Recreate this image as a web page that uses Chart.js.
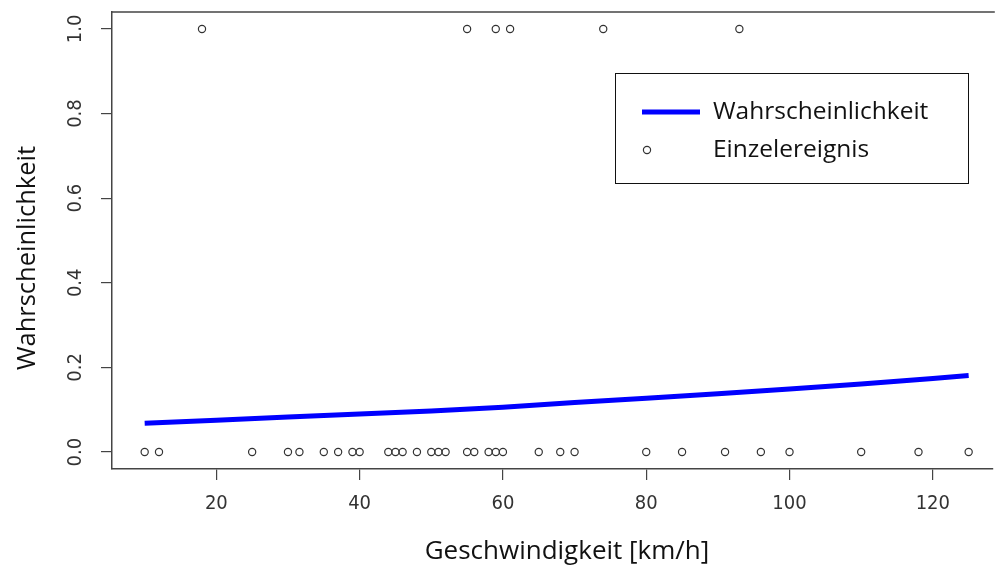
<!DOCTYPE html>
<html><head><meta charset="utf-8">
<script src="https://cdn.jsdelivr.net/npm/chart.js@4.4.0/dist/chart.umd.min.js"></script>
<style>html,body{margin:0;padding:0;background:#fff;overflow:hidden}</style>
</head><body>
<canvas id="c" width="998" height="570"></canvas>
<script>
// ---- data ----
const speedNoEvent = [10,12,25,30,31.6,35,37,39,40,44,45,46,48,50,51,52,55,56,58,59,60,65,68,70,80,85,91,96,100,110,118,125];
const speedEvent = [18,55,59,61,74,93];
const curveSpeed = [10,20,30,40,50,60,70,80,90,100,110,120,125];
const curveProb = [0.068,0.075,0.083,0.090,0.097,0.106,0.117,0.127,0.138,0.149,0.161,0.174,0.181];
const xTicks = [20,40,60,80,100,120];
const yTicks = [0,0.2,0.4,0.6,0.8,1.0];
const yTickLabels = ['0.0','0.2','0.4','0.6','0.8','1.0'];
const seriesLabels = ['Wahrscheinlichkeit','Einzelereignis'];
const xTitle = 'Geschwindigkeit [km/h]';
const yTitle = 'Wahrscheinlichkeit';

const NARROW = '"Liberation Sans Narrow", "DejaVu Sans Condensed", "Liberation Sans", sans-serif';
const TITLEF = '"Open Sans", "Noto Sans", sans-serif';
const AX = '#444';

const events = speedNoEvent.map(v => ({x: v, y: 0})).concat(speedEvent.map(v => ({x: v, y: 1})));
const curve = curveSpeed.map((v, i) => ({x: v, y: curveProb[i]}));

const framePlugin = {
  id: 'framePlugin',
  afterDraw(chart) {
    const {ctx, chartArea: a, scales: {y}} = chart;
    ctx.save();
    // top border of the box
    ctx.strokeStyle = AX; ctx.lineWidth = 1.5;
    ctx.beginPath(); ctx.moveTo(a.left, a.top); ctx.lineTo(a.right + 2, a.top); ctx.stroke();
    // rotated y tick labels
    ctx.fillStyle = '#333';
    ctx.font = '20px ' + NARROW;
    ctx.textAlign = 'center'; ctx.textBaseline = 'middle';
    yTicks.forEach((v, i) => {
      const py = y.getPixelForValue(v);
      ctx.save(); ctx.translate(a.left - 36, py); ctx.rotate(-Math.PI / 2);
      ctx.fillText(yTickLabels[i], 0, 0); ctx.restore();
    });
    // axis titles
    ctx.fillStyle = '#111';
    ctx.font = '26px ' + TITLEF;
    ctx.fillText(xTitle, 567, 552);
    ctx.save(); ctx.translate(28, 258); ctx.rotate(-Math.PI / 2);
    ctx.font = '25.5px ' + TITLEF;
    ctx.fillText(yTitle, 0, 0); ctx.restore();
    // legend box
    const lx = 615, ly = 73, lw = 353, lh = 110;
    ctx.fillStyle = '#fff'; ctx.fillRect(lx, ly, lw, lh);
    ctx.strokeStyle = '#111'; ctx.lineWidth = 1;
    ctx.strokeRect(lx + 0.5, ly + 0.5, lw, lh);
    const ds = chart.data.datasets;
    ctx.strokeStyle = ds[0].borderColor; ctx.lineWidth = 5;
    ctx.beginPath(); ctx.moveTo(lx + 27, ly + 39); ctx.lineTo(lx + 85, ly + 39); ctx.stroke();
    ctx.strokeStyle = ds[1].borderColor; ctx.lineWidth = 1.2;
    ctx.beginPath(); ctx.arc(lx + 32, ly + 77, 3.6, 0, Math.PI * 2); ctx.stroke();
    ctx.fillStyle = '#111'; ctx.font = '24.5px ' + TITLEF;
    ctx.textAlign = 'left'; ctx.textBaseline = 'middle';
    ctx.fillText(ds[0].label, lx + 98, ly + 39);
    ctx.fillText(ds[1].label, lx + 98, ly + 77);
    ctx.restore();
  }
};

new Chart(document.getElementById('c'), {
  type: 'scatter',
  data: {
    datasets: [
      {
        type: 'line', label: seriesLabels[0], data: curve,
        borderColor: '#0000ff', borderWidth: 5, pointRadius: 0, fill: false, tension: 0,
        borderCapStyle: 'butt', order: 2
      },
      {
        label: seriesLabels[1], data: events, showLine: false,
        pointStyle: 'circle', pointRadius: 3.6, borderWidth: 1.2,
        borderColor: '#333', backgroundColor: 'rgba(255,255,255,0)', order: 1
      }
    ]
  },
  options: {
    responsive: false, animation: false,
    devicePixelRatio: 1,
    layout: {padding: {left: 0, right: 0, top: 12, bottom: 0}},
    plugins: {legend: {display: false}, tooltip: {enabled: false}},
    scales: {
      x: {
        type: 'linear', min: 5.44, max: 128.37,
        afterBuildTicks: s => { s.ticks = xTicks.map(v => ({value: v})); },
        afterFit: s => { s.height = 101; },
        grid: {drawOnChartArea: false, drawTicks: true, tickLength: 11, color: AX, lineWidth: 1.2},
        border: {display: true, color: AX, width: 1.5},
        ticks: {font: {family: NARROW, size: 20}, color: '#333', padding: 12, maxRotation: 0, autoSkip: false},
        title: {display: false, text: xTitle}
      },
      y: {
        type: 'linear', min: -0.04, max: 1.04,
        afterBuildTicks: s => { s.ticks = yTicks.map(v => ({value: v})); },
        afterFit: s => { s.width = 112; },
        grid: {drawOnChartArea: false, drawTicks: true, tickLength: 11, color: AX, lineWidth: 1.2},
        border: {display: true, color: AX, width: 1.5},
        ticks: {display: false},
        title: {display: false, text: yTitle}
      }
    }
  },
  plugins: [framePlugin]
});
</script>
</body></html>
